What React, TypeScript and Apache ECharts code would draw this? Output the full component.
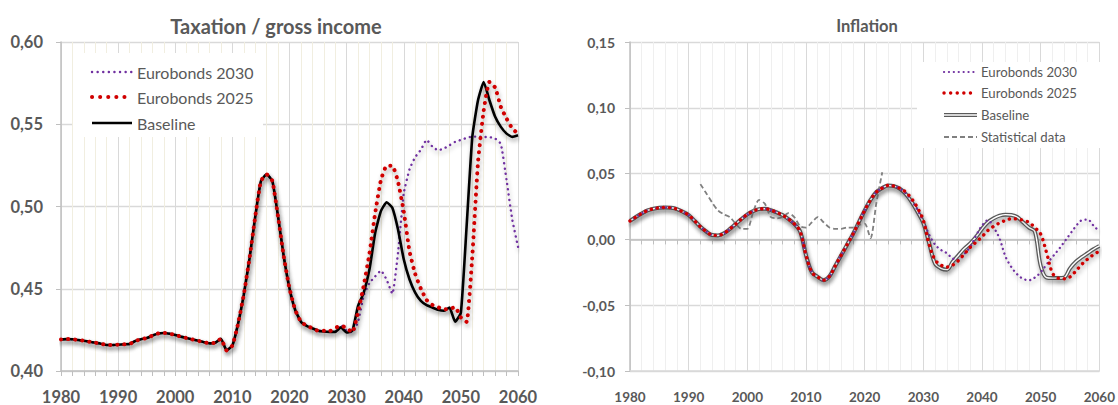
import React, { useEffect, useRef } from "react";
import * as echarts from "echarts";

const years = [
  1980, 1981, 1982, 1983, 1984, 1985, 1986, 1987, 1988, 1989,
  1990, 1991, 1992, 1993, 1994, 1995, 1996, 1997, 1998, 1999,
  2000, 2001, 2002, 2003, 2004, 2005, 2006, 2007, 2008, 2009,
  2010, 2011, 2012, 2013, 2014, 2015, 2016, 2017, 2018, 2019,
  2020, 2021, 2022, 2023, 2024, 2025, 2026, 2027, 2028, 2029,
  2030, 2031, 2032, 2033, 2034, 2035, 2036, 2037, 2038, 2039,
  2040, 2041, 2042, 2043, 2044, 2045, 2046, 2047, 2048, 2049,
  2050, 2051, 2052, 2053, 2054, 2055, 2056, 2057, 2058, 2059,
  2060,
];

// Taxation / gross income
const taxBaseline = [
  0.4192, 0.4194, 0.4193, 0.4188, 0.4184, 0.4178, 0.4172, 0.4166, 0.4158, 0.4158,
  0.416, 0.4162, 0.4164, 0.4182, 0.4193, 0.42, 0.4215, 0.4228, 0.4231, 0.4227,
  0.4219, 0.4209, 0.42, 0.4192, 0.4184, 0.4175, 0.4168, 0.4172, 0.4195, 0.4125,
  0.4155, 0.4288, 0.4465, 0.4684, 0.4937, 0.5155, 0.5195, 0.5155, 0.4938, 0.4695,
  0.4502, 0.4371, 0.43, 0.4275, 0.426, 0.4245, 0.424, 0.4238, 0.4238, 0.4265,
  0.4234, 0.4244, 0.4396, 0.4477, 0.4618, 0.484, 0.4972, 0.5026, 0.4992, 0.486,
  0.4679, 0.4558, 0.4477, 0.4426, 0.44, 0.4386, 0.4372, 0.4366, 0.4386, 0.4299,
  0.4355, 0.4877, 0.5423, 0.5646, 0.5757, 0.5646, 0.5545, 0.5484, 0.5443, 0.5423,
  0.5433,
];
const taxEuro2025 = [
  0.4192, 0.4194, 0.4193, 0.4188, 0.4184, 0.4178, 0.4172, 0.4166, 0.4158, 0.4158,
  0.416, 0.4162, 0.4164, 0.4182, 0.4193, 0.42, 0.4215, 0.4228, 0.4231, 0.4227,
  0.4219, 0.4209, 0.42, 0.4192, 0.4184, 0.4175, 0.4168, 0.4172, 0.4195, 0.4125,
  0.4155, 0.4288, 0.4465, 0.4684, 0.4937, 0.5155, 0.5195, 0.5155, 0.4938, 0.4695,
  0.4502, 0.4371, 0.43, 0.4275, 0.426, 0.4245, 0.4245, 0.4242, 0.4262, 0.4275,
  0.4262, 0.4235, 0.436, 0.452, 0.4715, 0.496, 0.516, 0.5247, 0.5247, 0.515,
  0.497, 0.473, 0.459, 0.45, 0.4432, 0.4402, 0.4388, 0.4374, 0.4378, 0.4388,
  0.4325, 0.4299, 0.47, 0.527, 0.5585, 0.5757, 0.5723, 0.5605, 0.5534, 0.5474,
  0.5443,
];
const taxEuro2030 = [
  0.4192, 0.4194, 0.4193, 0.4188, 0.4184, 0.4178, 0.4172, 0.4166, 0.4158, 0.4158,
  0.416, 0.4162, 0.4164, 0.4182, 0.4193, 0.42, 0.4215, 0.4228, 0.4231, 0.4227,
  0.4219, 0.4209, 0.42, 0.4192, 0.4184, 0.4175, 0.4168, 0.4172, 0.4195, 0.4125,
  0.4155, 0.4288, 0.4465, 0.4684, 0.4937, 0.5155, 0.5195, 0.5155, 0.4938, 0.4695,
  0.4502, 0.4371, 0.43, 0.4275, 0.426, 0.4245, 0.424, 0.4238, 0.4238, 0.428,
  0.4245, 0.4235, 0.43, 0.446, 0.4535, 0.4575, 0.461, 0.4555, 0.447, 0.472,
  0.508, 0.5225, 0.53, 0.5345, 0.5405, 0.5365, 0.5342, 0.5352, 0.5372, 0.5393,
  0.5405, 0.5417, 0.5425, 0.5425, 0.5423, 0.5422, 0.5413, 0.538, 0.516, 0.492,
  0.4755,
];

// Inflation
const infBaseline = [
  0.014, 0.017, 0.0197, 0.022, 0.0233, 0.024, 0.0243, 0.024, 0.023, 0.021,
  0.0185, 0.0142, 0.0096, 0.006, 0.0033, 0.003, 0.0046, 0.0078, 0.0116, 0.0155,
  0.019, 0.0215, 0.023, 0.0233, 0.0223, 0.0205, 0.0185, 0.0155, 0.0118, 0.006,
  -0.012, -0.025, -0.0285, -0.031, -0.028, -0.02, -0.012, -0.004, 0.004, 0.013,
  0.022, 0.03, 0.036, 0.039, 0.041, 0.0405, 0.0385, 0.0345, 0.0285, 0.021,
  0.0125, -0.003, -0.0185, -0.022, -0.023, -0.017, -0.012, -0.007, -0.003, 0.002,
  0.008, 0.013, 0.016, 0.018, 0.0188, 0.0185, 0.017, 0.013, 0.009, 0.006,
  -0.02, -0.029, -0.0294, -0.0294, -0.029, -0.022, -0.017, -0.0135, -0.0105, -0.0075,
  -0.005,
];
const infEuro2025 = [
  0.014, 0.017, 0.0197, 0.022, 0.0233, 0.024, 0.0243, 0.024, 0.023, 0.021,
  0.0185, 0.0142, 0.0096, 0.006, 0.0033, 0.003, 0.0046, 0.0078, 0.0116, 0.0155,
  0.019, 0.0215, 0.023, 0.0233, 0.0223, 0.0205, 0.0185, 0.0155, 0.0118, 0.006,
  -0.012, -0.025, -0.0285, -0.031, -0.028, -0.02, -0.012, -0.004, 0.004, 0.013,
  0.022, 0.03, 0.036, 0.039, 0.041, 0.0405, 0.0388, 0.036, 0.031, 0.024,
  0.0145, -0.004, -0.0155, -0.0195, -0.021, -0.0195, -0.016, -0.011, -0.006, -0.002,
  0.002, 0.0068, 0.01, 0.0125, 0.0144, 0.0157, 0.0155, 0.0145, 0.013, 0.009,
  0.004, -0.01, -0.0255, -0.0295, -0.0299, -0.0285, -0.024, -0.019, -0.015, -0.0116,
  -0.009,
];
const infEuro2030 = [
  0.014, 0.017, 0.0197, 0.022, 0.0233, 0.024, 0.0243, 0.024, 0.023, 0.021,
  0.0185, 0.0142, 0.0096, 0.006, 0.0033, 0.003, 0.0046, 0.0078, 0.0116, 0.0155,
  0.019, 0.0215, 0.023, 0.0233, 0.0223, 0.0205, 0.0185, 0.0155, 0.0118, 0.006,
  -0.012, -0.025, -0.0285, -0.031, -0.028, -0.02, -0.012, -0.004, 0.004, 0.013,
  0.022, 0.03, 0.036, 0.039, 0.041, 0.0405, 0.0385, 0.035, 0.0295, 0.0225,
  0.0135, 0.0035, -0.004, -0.008, -0.0105, -0.0145, -0.0155, -0.011, -0.0055, 0.003,
  0.0105, 0.0145, 0.009, 0.0005, -0.013, -0.021, -0.0265, -0.03, -0.031, -0.029,
  -0.025, -0.019, -0.0134, -0.008, -0.002, 0.004, 0.01, 0.0145, 0.015, 0.0105,
  0.006,
];
const statYears = [
  1992, 1993, 1994, 1995, 1996, 1997, 1998, 1999, 2000, 2001,
  2002, 2003, 2004, 2005, 2006, 2007, 2008, 2009, 2010, 2011,
  2012, 2013, 2014, 2015, 2016, 2017, 2018, 2019, 2020, 2021,
  2022, 2023,
];
const infStat = [
  0.042, 0.035, 0.028, 0.022, 0.019, 0.017, 0.012, 0.008, 0.008, 0.021,
  0.03, 0.027, 0.017, 0.016, 0.017, 0.02, 0.017, 0.01, 0.009, 0.013,
  0.017, 0.013, 0.009, 0.008, 0.008, 0.009, 0.009, 0.011, 0.012, 0.001,
  0.028, 0.051,
];

const FONT = "Lato, 'Noto Sans', sans-serif";
const TXT = "#595959";
const PURPLE = "#7030a0";
const RED = "#d00000";

const pairs = (xs: number[], ys: number[]) => xs.map((x, i) => [x, ys[i]]);
const fmt = (v: number) => v.toFixed(2).replace(".", ",");
const fmtYear = (v: number) => String(Math.round(v));

const shadow = {
  shadowColor: "rgba(0,0,0,0.35)",
  shadowBlur: 4,
  shadowOffsetX: 1,
  shadowOffsetY: 3,
};

function legendRow(x1: number, x2: number, y: number, tx: number, label: string, fs: number, line: any[]) {
  return [
    ...line.map((l) => ({
      type: "line",
      z: 100,
      shape: { x1, y1: y, x2, y2: y },
      style: { fill: null, lineCap: "round", ...l },
    })),
    {
      type: "text",
      z: 100,
      x: tx,
      y,
      style: { text: label, fill: TXT, fontSize: fs, fontFamily: FONT, verticalAlign: "middle", align: "left" },
    },
  ];
}

export default function App() {
  const ref = useRef<HTMLDivElement>(null);
  useEffect(() => {
    if (!ref.current) return;
    const chart = echarts.init(ref.current, null, { renderer: "svg" });
    const axisGray = "#bfbfbf";
    const option: any = {
      animation: false,
      backgroundColor: "#ffffff",
      title: [
        {
          text: "Taxation / gross income",
          left: 271,
          top: 11,
          textAlign: "center",
          textStyle: { fontFamily: FONT, fontSize: 20, fontWeight: "bold", color: TXT },
        },
        {
          text: "Inflation",
          left: 862,
          top: 12,
          textAlign: "center",
          textStyle: { fontFamily: FONT, fontSize: 16.5, fontWeight: "bold", color: TXT },
        },
      ],
      grid: [
        { left: 61, top: 42, width: 457, height: 330 },
        { left: 630, top: 42, width: 474, height: 329 },
      ],
      xAxis: [
        {
          gridIndex: 0,
          type: "value",
          min: 1980,
          max: 2060,
          interval: 10,
          axisLine: { show: true, onZero: false, lineStyle: { color: axisGray, width: 1.5 } },
          axisTick: { show: true, length: 5, lineStyle: { color: axisGray } },
          minorTick: { show: true, splitNumber: 5, length: 5, lineStyle: { color: axisGray } },
          axisLabel: { margin: 17, formatter: fmtYear, fontFamily: FONT, fontSize: 16.5, fontWeight: "bold", color: TXT },
          splitLine: { show: true, lineStyle: { color: "#d9d9d9", width: 1 } },
          minorSplitLine: { show: true, lineStyle: { color: "#f1eee0", width: 1 } },
        },
        {
          gridIndex: 1,
          type: "value",
          min: 1980,
          max: 2060,
          interval: 10,
          position: "bottom",
          axisLine: { show: true, onZero: false, lineStyle: { color: "#d9d9d9", width: 1.5 } },
          axisTick: { show: false },
          axisLabel: { margin: 19, formatter: fmtYear, fontFamily: FONT, fontSize: 13.5, fontWeight: "bold", color: TXT },
          splitLine: { show: true, lineStyle: { color: "#d9d9d9", width: 1 } },
          minorSplitLine: { show: true, lineStyle: { color: "#efefef", width: 1 } },
        },
        {
          gridIndex: 1,
          type: "value",
          min: 1980,
          max: 2060,
          interval: 10,
          position: "top",
          axisLine: { show: true, onZero: true, lineStyle: { color: axisGray, width: 1.5 } },
          axisTick: { show: true, inside: true, length: 5, lineStyle: { color: axisGray } },
          minorTick: { show: true, splitNumber: 5, length: 5, lineStyle: { color: axisGray } },
          axisLabel: { show: false },
          splitLine: { show: false },
        },
      ],
      yAxis: [
        {
          gridIndex: 0,
          type: "value",
          min: 0.4,
          max: 0.6,
          interval: 0.05,
          axisLine: { show: true, lineStyle: { color: axisGray, width: 1.5 } },
          axisTick: { show: true, length: 5, lineStyle: { color: axisGray } },
          axisLabel: { margin: 18, formatter: fmt, fontFamily: FONT, fontSize: 16.5, fontWeight: "bold", color: TXT },
          splitLine: { show: true, lineStyle: { color: "#d9d9d9", width: 1.3 } },
        },
        {
          gridIndex: 1,
          type: "value",
          min: -0.1,
          max: 0.15,
          interval: 0.05,
          axisLine: { show: true, lineStyle: { color: axisGray, width: 1.5 } },
          axisTick: { show: true, length: 5, lineStyle: { color: axisGray } },
          axisLabel: { margin: 15, formatter: fmt, fontFamily: FONT, fontSize: 14, fontWeight: "bold", color: TXT },
          splitLine: { show: true, lineStyle: { color: "#d9d9d9", width: 1.3 } },
        },
      ],
      series: [
        {
          name: "Eurobonds 2030",
          type: "line",
          xAxisIndex: 0,
          yAxisIndex: 0,
          data: pairs(years, taxEuro2030),
          symbol: "none",
          smooth: 0.15,
          lineStyle: { color: PURPLE, width: 2.4, type: [0.1, 5.2], cap: "round", ...shadow },
          z: 2,
        },
        {
          name: "Baseline",
          type: "line",
          xAxisIndex: 0,
          yAxisIndex: 0,
          data: pairs(years, taxBaseline),
          symbol: "none",
          smooth: 0.15,
          lineStyle: { color: "#000000", width: 2.6, ...shadow },
          z: 3,
        },
        {
          name: "Eurobonds 2025",
          type: "line",
          xAxisIndex: 0,
          yAxisIndex: 0,
          data: pairs(years, taxEuro2025),
          symbol: "none",
          smooth: 0.15,
          lineStyle: { color: RED, width: 4, type: [0.1, 7], cap: "round", ...shadow },
          z: 4,
        },
        {
          name: "Baseline",
          type: "line",
          xAxisIndex: 1,
          yAxisIndex: 1,
          data: pairs(years, infBaseline),
          symbol: "none",
          smooth: 0.35,
          lineStyle: { color: "#5a5a5a", width: 4, ...shadow },
          z: 3,
        },
        {
          name: "Baseline ",
          type: "line",
          xAxisIndex: 1,
          yAxisIndex: 1,
          data: pairs(years, infBaseline),
          symbol: "none",
          smooth: 0.35,
          lineStyle: { color: "#ffffff", width: 1.4 },
          z: 4,
        },
        {
          name: "Statistical data",
          type: "line",
          xAxisIndex: 1,
          yAxisIndex: 1,
          data: pairs(statYears, infStat),
          symbol: "none",
          smooth: 0.25,
          lineStyle: { color: "#808080", width: 1.8, type: [5, 3] },
          z: 5,
        },
        {
          name: "Eurobonds 2030",
          type: "line",
          xAxisIndex: 1,
          yAxisIndex: 1,
          data: pairs(years, infEuro2030),
          symbol: "none",
          smooth: 0.35,
          lineStyle: { color: PURPLE, width: 2.3, type: [0.1, 4.8], cap: "round", ...shadow },
          z: 6,
        },
        {
          name: "Eurobonds 2025",
          type: "line",
          xAxisIndex: 1,
          yAxisIndex: 1,
          data: pairs(years, infEuro2025),
          symbol: "none",
          smooth: 0.35,
          lineStyle: { color: RED, width: 3.4, type: [0.1, 6], cap: "round", ...shadow },
          z: 7,
        },
      ],
      graphic: [
        { type: "rect", z: 99, shape: { x: 73, y: 53, width: 190, height: 84 }, style: { fill: "#ffffff" } },
        ...legendRow(92, 132, 72, 137, "Eurobonds 2030", 16, [
          { stroke: PURPLE, lineWidth: 2.4, lineDash: [0.1, 5.5] },
        ]),
        ...legendRow(92, 126, 97, 137, "Eurobonds 2025", 16, [
          { stroke: RED, lineWidth: 4, lineDash: [0.1, 8] },
        ]),
        ...legendRow(92, 132, 123, 137, "Baseline", 16, [
          { stroke: "#000000", lineWidth: 2.6, lineCap: "butt" },
        ]),
        { type: "rect", z: 99, shape: { x: 917, y: 62, width: 186, height: 86 }, style: { fill: "#ffffff" } },
        ...legendRow(944, 977, 72, 981, "Eurobonds 2030", 13.2, [
          { stroke: PURPLE, lineWidth: 2.2, lineDash: [0.1, 4.8] },
        ]),
        ...legendRow(944, 974, 93, 981, "Eurobonds 2025", 13.2, [
          { stroke: RED, lineWidth: 3.4, lineDash: [0.1, 6.5] },
        ]),
        ...legendRow(944, 977, 115, 981, "Baseline", 13.2, [
          { stroke: "#5a5a5a", lineWidth: 4, lineCap: "butt" },
          { stroke: "#ffffff", lineWidth: 1.4, lineCap: "butt" },
        ]),
        ...legendRow(944, 977, 137, 981, "Statistical data", 13.2, [
          { stroke: "#808080", lineWidth: 1.8, lineDash: [5, 3], lineCap: "butt" },
        ]),
      ],
    };
    chart.setOption(option);
    return () => chart.dispose();
  }, []);
  return (
    <div
      ref={ref}
      style={{ position: "fixed", left: 0, top: 0, width: 1118, height: 405, background: "#ffffff" }}
    />
  );
}
